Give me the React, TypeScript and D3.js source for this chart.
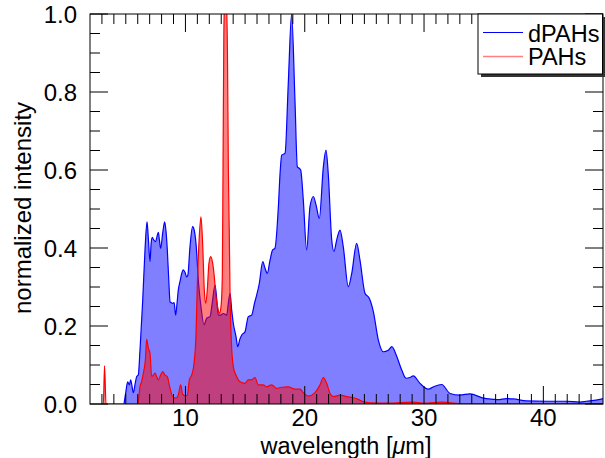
import React from "react";
import * as d3 from "d3";

const dpahWave = [4.85,5.0,5.16,5.3,5.41,5.5,5.63,5.8,5.91,6.05,6.19,6.42,6.61,6.78,6.9,7.03,7.12,7.22,7.35,7.5,7.62,7.73,7.82,7.92,8.1,8.26,8.38,8.48,8.6,8.71,8.8,8.9,9.05,9.18,9.3,9.4,9.55,9.69,9.82,9.96,10.1,10.2,10.38,10.6,10.7,10.89,11.1,11.3,11.56,11.78,12.06,12.25,12.48,12.62,12.75,12.95,13.17,13.46,13.6,13.74,13.88,14.01,14.24,14.38,14.55,14.72,14.99,15.27,15.55,15.8,15.97,16.19,16.48,16.67,16.86,17.09,17.31,17.5,17.79,17.93,18.07,18.35,18.62,18.9,19.18,19.38,19.55,19.66,19.88,20.16,20.44,20.72,20.95,21.22,21.56,21.78,21.97,22.26,22.45,22.68,22.96,23.23,23.65,23.94,24.35,24.63,25.05,25.41,25.75,26.17,26.59,27.0,27.3,27.7,28.13,28.49,28.82,29.1,29.66,30.36,30.78,31.48,32.18,33.0,33.85,34.97,35.8,36.2,36.9,37.48,38.6,40.28,41.96,43.07,43.6,44.75,45];
const dpahInt = [0,0.03,0.057,0.049,0.062,0.05,0.029,0.055,0.07,0.075,0.138,0.267,0.395,0.467,0.42,0.365,0.41,0.427,0.42,0.416,0.43,0.44,0.42,0.399,0.44,0.467,0.44,0.395,0.32,0.262,0.26,0.258,0.26,0.228,0.26,0.292,0.315,0.335,0.344,0.338,0.326,0.33,0.403,0.455,0.45,0.41,0.309,0.25,0.203,0.22,0.224,0.26,0.305,0.27,0.228,0.228,0.232,0.228,0.26,0.284,0.24,0.207,0.173,0.147,0.165,0.177,0.185,0.224,0.228,0.26,0.279,0.309,0.365,0.348,0.335,0.369,0.395,0.399,0.506,0.591,0.638,0.643,0.822,1.0,0.779,0.608,0.604,0.6,0.523,0.395,0.506,0.532,0.51,0.476,0.608,0.651,0.591,0.421,0.391,0.421,0.446,0.403,0.301,0.335,0.412,0.369,0.284,0.271,0.237,0.164,0.134,0.138,0.147,0.123,0.087,0.066,0.068,0.072,0.053,0.038,0.044,0.05,0.027,0.023,0.026,0.015,0.012,0.011,0.014,0.013,0.008,0.007,0.007,0.005,0.007,0.012,0.014];

const pahWave = [3.0,3.12,3.22,3.34,6.0,6.19,6.35,6.47,6.64,6.75,6.89,7.03,7.17,7.31,7.45,7.59,7.73,7.92,8.09,8.29,8.48,8.71,8.93,9.21,9.4,9.6,9.77,10.0,10.16,10.33,10.52,10.72,10.89,11.0,11.16,11.3,11.44,11.58,11.7,11.83,11.97,12.12,12.28,12.42,12.56,12.7,12.84,12.98,13.09,13.15,13.22,13.3,13.42,13.52,13.6,13.67,13.74,13.85,14.01,14.3,14.57,14.99,15.27,15.55,15.83,16.1,16.52,16.8,17.23,17.65,18.07,18.62,19.18,19.6,19.88,20.3,20.86,21.28,21.56,21.84,22.12,22.4,22.96,23.5,24.07,24.49,24.9,25.47,27,29.1,30,31.5,33,45];
const pahInt = [0,0,0.098,0,0,0.044,0.06,0.079,0.113,0.166,0.143,0.13,0.07,0.074,0.079,0.07,0.062,0.074,0.083,0.074,0.07,0.04,0.019,0.015,0.023,0.049,0.025,0.021,0.022,0.062,0.074,0.104,0.181,0.309,0.429,0.48,0.412,0.292,0.258,0.292,0.361,0.378,0.361,0.326,0.275,0.249,0.232,0.249,0.326,0.6,0.95,1.05,1.05,0.9,0.6,0.45,0.28,0.16,0.096,0.07,0.057,0.053,0.062,0.062,0.068,0.049,0.049,0.044,0.049,0.04,0.043,0.044,0.038,0.038,0.029,0.02,0.029,0.049,0.068,0.053,0.027,0.019,0.023,0.019,0.016,0.012,0.006,0.003,0.002,0.005,0.002,0.005,0.001,0.001];

const xMajorTicks = [10, 20, 30, 40];
const yMajorTicks = [0, 0.2, 0.4, 0.6, 0.8, 1.0];
const seriesNames = ["dPAHs", "PAHs"];

const W = 605, H = 458;
const X0 = 90, X1 = 603, Y0 = 404, Y1 = 14;
const FONT = "'Liberation Sans', Arial, Helvetica, sans-serif";

export default function App() {
  const x = d3.scaleLinear().domain([2, 45]).range([X0, X1]);
  const y = d3.scaleLinear().domain([0, 1]).range([Y0, Y1]);

  const blue = dpahWave.map((w, i) => [w, dpahInt[i]] as [number, number]);
  const red = pahWave.map((w, i) => [w, pahInt[i]] as [number, number]);

  const area = d3.area<[number, number]>().x(d => x(d[0])).y0(y(0)).y1(d => y(d[1])).curve(d3.curveMonotoneX);
  const line = d3.line<[number, number]>().x(d => x(d[0])).y(d => y(d[1])).curve(d3.curveMonotoneX);

  const xMinor = d3.range(3, 45, 1).filter(v => !xMajorTicks.includes(v));
  const yMinor = d3.range(1, 20).map(i => i * 0.05).filter(v => !yMajorTicks.some(m => Math.abs(m - v) < 1e-6));

  const tickStroke = "#000";
  const ticks: JSX.Element[] = [];
  xMinor.forEach((v, i) => {
    const px = x(v);
    ticks.push(<line key={"xb" + i} x1={px} x2={px} y1={Y0} y2={Y0 - 10} stroke={tickStroke} />);
    ticks.push(<line key={"xt" + i} x1={px} x2={px} y1={Y1} y2={Y1 + 10} stroke={tickStroke} />);
  });
  xMajorTicks.forEach((v, i) => {
    const px = x(v);
    ticks.push(<line key={"xB" + i} x1={px} x2={px} y1={Y0} y2={Y0 - 18} stroke={tickStroke} />);
    ticks.push(<line key={"xT" + i} x1={px} x2={px} y1={Y1} y2={Y1 + 18} stroke={tickStroke} />);
  });
  yMinor.forEach((v, i) => {
    const py = y(v);
    ticks.push(<line key={"yl" + i} x1={X0} x2={X0 + 10} y1={py} y2={py} stroke={tickStroke} />);
    ticks.push(<line key={"yr" + i} x1={X1} x2={X1 - 10} y1={py} y2={py} stroke={tickStroke} />);
  });
  yMajorTicks.forEach((v, i) => {
    const py = y(v);
    ticks.push(<line key={"yL" + i} x1={X0} x2={X0 + 18} y1={py} y2={py} stroke={tickStroke} />);
    ticks.push(<line key={"yR" + i} x1={X1} x2={X1 - 18} y1={py} y2={py} stroke={tickStroke} />);
  });

  return (
    <svg width={W} height={H} style={{ position: "absolute", left: 0, top: 0, background: "#fff" }} fontFamily={FONT}>
      <defs>
        <clipPath id="plotclip">
          <rect x={X0} y={Y1} width={X1 - X0} height={Y0 - Y1} />
        </clipPath>
      </defs>
      <rect x={0} y={0} width={W} height={H} fill="#fff" />
      <g clipPath="url(#plotclip)">
        <path d={area(blue) || ""} fill="#0000ff" fillOpacity={0.5} />
        <path d={line(blue) || ""} fill="none" stroke="#0000ff" strokeWidth={1.2} />
        <path d={area(red) || ""} fill="#ff0000" fillOpacity={0.5} />
        <path d={line(red) || ""} fill="none" stroke="#ff0000" strokeWidth={1.2} />
      </g>
      {ticks}
      <rect x={X0} y={Y1} width={X1 - X0} height={Y0 - Y1} fill="none" stroke="#000" strokeWidth={1} />
      {yMajorTicks.map((v, i) => (
        <text key={"yt" + i} x={77} y={y(v) + 8.5} textAnchor="end" fontSize={24} fill="#000">{v.toFixed(1)}</text>
      ))}
      {xMajorTicks.map((v, i) => (
        <text key={"xtl" + i} x={x(v)} y={426} textAnchor="middle" fontSize={24} fill="#000">{v}</text>
      ))}
      <text x={346} y={453.5} textAnchor="middle" fontSize={23.5} fill="#000">
        wavelength [<tspan fontStyle="italic">μ</tspan>m]
      </text>
      <text transform={`translate(31,208) rotate(-90)`} textAnchor="middle" fontSize={24} fill="#000">normalized intensity</text>
      <g>
        <rect x={481} y={17} width={124} height={60} fill="#333" />
        <rect x={478} y={14} width={124.5} height={60} fill="#fff" stroke="#000" strokeWidth={1} />
        <line x1={483} x2={523} y1={32.5} y2={32.5} stroke="#0000ff" strokeWidth={1.2} />
        <text x={528} y={41.5} fontSize={23.5} fill="#000">{seriesNames[0]}</text>
        <line x1={483} x2={523} y1={56.5} y2={56.5} stroke="#ff0000" strokeOpacity={0.5} strokeWidth={1.5} />
        <text x={528} y={65} fontSize={23.5} fill="#000">{seriesNames[1]}</text>
      </g>
    </svg>
  );
}
